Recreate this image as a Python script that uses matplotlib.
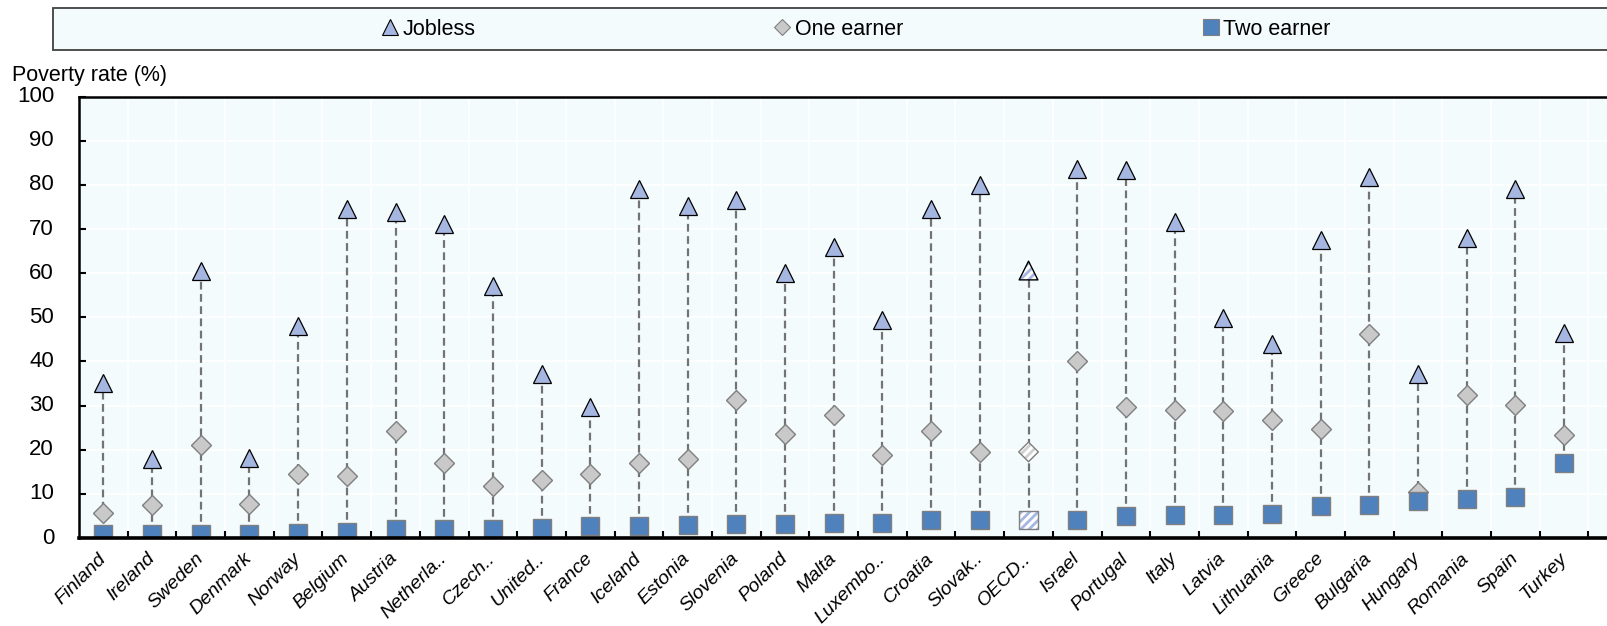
import matplotlib
matplotlib.use("Agg")
from matplotlib import pyplot as plt
from matplotlib import transforms
from matplotlib.lines import Line2D
from matplotlib.patches import Rectangle
import numpy as np

countries = ["Finland", "Ireland", "Sweden", "Denmark", "Norway", "Belgium", "Austria",
             "Netherla..", "Czech..", "United..", "France", "Iceland", "Estonia", "Slovenia",
             "Poland", "Malta", "Luxembo..", "Croatia", "Slovak..", "OECD..", "Israel",
             "Portugal", "Italy", "Latvia", "Lithuania", "Greece", "Bulgaria", "Hungary",
             "Romania", "Spain", "Turkey"]
jobless = [35.1, 17.9, 60.4, 18.2, 48.0, 74.6, 73.9, 71.1, 57.1, 37.1, 29.7, 79.0, 75.3,
           76.6, 60.0, 65.9, 49.5, 74.6, 79.9, 60.6, 83.6, 83.3, 71.7, 49.9, 44.0, 67.6,
           81.8, 37.1, 67.9, 79.1, 46.5]
one_earner = [5.6, 7.5, 21.0, 7.6, 14.6, 14.1, 24.3, 16.9, 11.8, 13.1, 14.6, 17.1, 17.8,
              31.2, 23.5, 27.8, 18.8, 24.3, 19.5, 19.5, 40.0, 29.7, 29.1, 28.8, 26.8, 24.6,
              46.3, 10.5, 32.4, 30.2, 23.3]
two_earner = [0.8, 0.8, 0.8, 0.8, 1.1, 1.3, 2.0, 2.0, 2.1, 2.3, 2.7, 2.7, 3.0, 3.1, 3.2,
              3.3, 3.4, 4.1, 4.1, 4.1, 4.1, 5.0, 5.1, 5.3, 5.4, 7.2, 7.4, 8.4, 8.9, 9.4, 17.0]
yticks = [0, 10, 20, 30, 40, 50, 60, 70, 80, 90, 100]
highlight = "OECD.."

plt.rcParams["font.family"] = ["Liberation Sans", "DejaVu Sans"]
plt.rcParams["hatch.linewidth"] = 2.0

TRI_C = "#A5B7E1"
DIA_C = "#C9C9C9"
SQ_C = "#4F81BD"
EDGE_G = "#7F7F7F"
BG = "#F4FBFD"

W, H = 1607, 626
fig = plt.figure(figsize=(W / 100, H / 100), dpi=100)
ax = fig.add_axes([79 / W, 1 - 538 / H, 1 - 79 / W, (538 - 96.6) / H])
ax.set_facecolor(BG)

x = np.arange(len(countries))
hl = [i for i, c in enumerate(countries) if c == highlight]
nm = [i for i, c in enumerate(countries) if c != highlight]
jb = np.array(jobless)
oe = np.array(one_earner)
te = np.array(two_earner)

ax.vlines(x, te, jb, colors="#737373", linestyles=(0, (3.5, 2.0)), linewidth=1.6, zorder=2)

ax.plot(x[nm], oe[nm], "D", ms=10, mfc=DIA_C, mec=EDGE_G, mew=1.0, zorder=3)
ax.plot(x[nm], te[nm], "s", ms=13.5, mfc=SQ_C, mec=EDGE_G, mew=1.0, zorder=4)
ax.plot(x[nm], jb[nm], "^", ms=13.5, mfc=TRI_C, mec="black", mew=0.9, zorder=5)

# OECD average: hatched markers
for vals, mk, size, hc, ec, z in [(oe, "D", 10, "#D0D0D0", EDGE_G, 3),
                                  (te, "s", 13.5, TRI_C, EDGE_G, 4),
                                  (jb, "^", 13.5, TRI_C, "black", 5)]:
    s = size ** 2
    ax.scatter(x[hl], vals[hl], s=s, marker=mk, facecolor="white", edgecolor=hc,
               hatch="////", linewidths=0, zorder=z)
    ax.scatter(x[hl], vals[hl], s=s, marker=mk, facecolor="none", edgecolor=ec,
               linewidths=1.0, zorder=z + 0.1)

ax.set_ylim(0, 100)
ax.set_xlim(-0.5, len(countries) - 0.5 + 0.38)
ax.set_yticks(yticks)
ax.set_yticklabels([])
ax.set_xticks(x)
ax.set_xticks(np.arange(0.5, len(countries) + 0.5, 1), minor=True)
ax.set_xticklabels(countries, rotation=45, ha="right", va="center", rotation_mode="anchor",
                   fontsize=14, style="italic")
ax.tick_params(axis="x", which="major", length=0, pad=13)
ax.tick_params(axis="x", which="minor", direction="in", length=5, width=1.5)
ax.tick_params(axis="y", which="major", direction="in", length=5, width=1.5)
ax.grid(True, axis="y", color="white", linewidth=1.2, zorder=0)
ax.grid(True, axis="x", which="minor", color="white", linewidth=1.2, zorder=0)
ax.set_axisbelow(True)

# y tick labels: right edge 25 px left of the axis line
ytrans = transforms.blended_transform_factory(fig.transFigure, ax.transData)
for v in yticks:
    fig.text(54 / W, v, str(v), transform=ytrans, ha="right", va="center", fontsize=16)

for side in ["left", "top"]:
    ax.spines[side].set_linewidth(1.8)
ax.spines["bottom"].set_linewidth(2.6)
ax.spines["right"].set_visible(False)
for sp in ax.spines.values():
    sp.set_zorder(6)

fig.text(12 / W, 1 - 75 / H, "Poverty rate (%)", fontsize=15.5, va="center", ha="left")

# legend box across the top
fig.patches.append(Rectangle((53 / W, 1 - 50 / H), 1.0, 42 / H, transform=fig.transFigure,
                             facecolor=BG, edgecolor="#404040", linewidth=1.3))
handles = [
    Line2D([], [], ls="none", marker="^", ms=11, mfc=TRI_C, mec="black", mew=0.8),
    Line2D([], [], ls="none", marker="D", ms=8, mfc=DIA_C, mec=EDGE_G, mew=0.8),
    Line2D([], [], ls="none", marker="s", ms=11, mfc=SQ_C, mec=EDGE_G, mew=0.8),
]
fig.legend(handles, ["Jobless", "One earner", "Two earner"], loc="center",
           bbox_to_anchor=(856 / W, 1 - 29.5 / H), ncol=3, frameon=False,
           fontsize=15.5, handlelength=0.8, handletextpad=0.2, columnspacing=13.85,
           borderpad=0)

fig.savefig("out.png", dpi=100)
